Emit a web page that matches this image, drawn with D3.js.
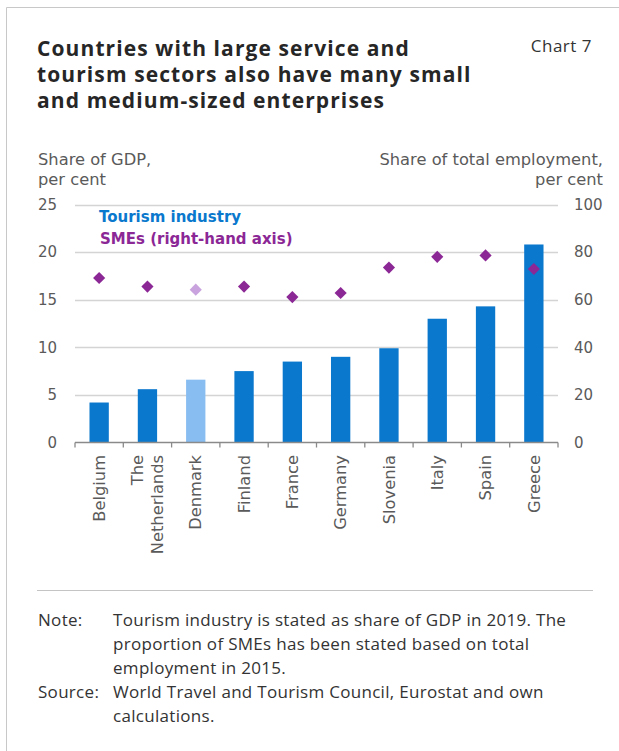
<!DOCTYPE html>
<html>
<head>
<meta charset="utf-8">
<script src="https://cdn.jsdelivr.net/npm/d3@7"></script>
<style>
  html, body { margin: 0; padding: 0; background: #fff; }
  svg { display: block; }
</style>
</head>
<body>
<svg id="chart" width="619" height="751"></svg>
<script>
// Countries, in the order shown on the x axis
const countries = ["Belgium", "The Netherlands", "Denmark", "Finland", "France",
                   "Germany", "Slovenia", "Italy", "Spain", "Greece"];
// Tourism industry, share of GDP 2019 (per cent, left axis)
const tourismShare = [4.2, 5.6, 6.6, 7.5, 8.5, 9.0, 9.9, 13.0, 14.3, 20.8];
// SMEs, share of total employment 2015 (per cent, right axis)
const smeShare = [69.1, 65.5, 64.2, 65.5, 61.1, 62.8, 73.5, 78.0, 78.6, 72.9];
// Country drawn in a highlight tone
const highlight = "Denmark";
// Axis ticks
const leftTicks = [0, 5, 10, 15, 20, 25];
const rightTicks = [0, 20, 40, 60, 80, 100];

const titleLines = ["Countries with large service and",
                    "tourism sectors also have many small",
                    "and medium-sized enterprises"];
const noteLines = ["Tourism industry is stated as share of GDP in 2019. The",
                   "proportion of SMEs has been stated based on total",
                   "employment in 2015."];
const sourceLines = ["World Travel and Tourism Council, Eurostat and own",
                     "calculations."];

const svg = d3.select("#chart");
const FONT = "'Open Sans', 'Noto Sans', sans-serif";
const AXIS_FONT = "'DejaVu Sans', Verdana, sans-serif";
const grey = "#5a5a5a";

const colBar = "#0a78cd", colBarLight = "#87bdf1";
const colDot = "#8c2796", colDotLight = "#c9a3de";

// frame
svg.append("line").attr("x1", 6.5).attr("x2", 619).attr("y1", 7.5).attr("y2", 7.5)
  .attr("stroke", "#c8c8c8").attr("stroke-width", 1);
svg.append("line").attr("x1", 6.5).attr("x2", 6.5).attr("y1", 7.5).attr("y2", 751)
  .attr("stroke", "#c8c8c8").attr("stroke-width", 1);

// title
svg.append("text").attr("x", 37).attr("y", 56)
  .style("font-family", FONT).style("font-weight", 700).style("font-size", "21px")
  .style("letter-spacing", "1.1px")
  .attr("fill", "#262626")
  .selectAll("tspan").data(titleLines).join("tspan")
  .attr("x", 37).attr("dy", (d, i) => i ? 26 : 0).text(d => d);

svg.append("text").attr("x", 592).attr("y", 52).attr("text-anchor", "end")
  .style("font-family", FONT).style("font-size", "17px").style("letter-spacing", "0.5px")
  .attr("fill", "#333")
  .text("Chart 7");

// axis titles
svg.append("text").style("font-family", AXIS_FONT).style("font-size", "16.3px").attr("fill", grey)
  .selectAll("tspan").data(["Share of GDP,", "per cent"]).join("tspan")
  .attr("x", 38).attr("y", (d, i) => 165 + i * 20).text(d => d);
svg.append("text").style("font-family", AXIS_FONT).style("font-size", "16.3px").attr("fill", grey)
  .attr("text-anchor", "end")
  .selectAll("tspan").data(["Share of total employment,", "per cent"]).join("tspan")
  .attr("x", 603).attr("y", (d, i) => 165 + i * 20).text(d => d);

// plot area bounds
const plotLeft = 75, plotRight = 558, plotTop = 204.5, plotBottom = 442.5;
const x = d3.scaleBand().domain(countries).range([plotLeft, plotRight])
  .paddingInner(0.6).paddingOuter(0.3);
const yL = d3.scaleLinear().domain([0, 25]).range([plotBottom, plotTop]);
const yR = d3.scaleLinear().domain([0, 100]).range([plotBottom, plotTop]);

// gridlines
svg.append("g").selectAll("line").data(leftTicks.filter(t => t > 0)).join("line")
  .attr("x1", plotLeft).attr("x2", plotRight)
  .attr("y1", d => Math.round(yL(d)) + 0.5).attr("y2", d => Math.round(yL(d)) + 0.5)
  .attr("stroke", "#d4d4d4").attr("stroke-width", 1.3);

// left axis
const gL = svg.append("g").attr("transform", `translate(${plotLeft},0)`)
  .call(d3.axisLeft(yL).tickValues(leftTicks).tickSize(0).tickPadding(18));
gL.select(".domain").remove();
gL.selectAll("text").style("font-family", AXIS_FONT).style("font-size", "15px").attr("fill", grey);

// right axis
const gR = svg.append("g").attr("transform", `translate(${plotRight},0)`)
  .call(d3.axisRight(yR).tickValues(rightTicks).tickSize(0).tickPadding(16));
gR.select(".domain").remove();
gR.selectAll("text").style("font-family", AXIS_FONT).style("font-size", "15px").attr("fill", grey);

// bars
svg.append("g").selectAll("rect").data(countries).join("rect")
  .attr("x", d => x(d)).attr("width", x.bandwidth())
  .attr("y", (d, i) => yL(tourismShare[i]))
  .attr("height", (d, i) => yL(0) - yL(tourismShare[i]))
  .attr("fill", d => d === highlight ? colBarLight : colBar);

// x axis line and category boundary ticks
svg.append("line").attr("x1", plotLeft).attr("x2", plotRight).attr("y1", plotBottom).attr("y2", plotBottom)
  .attr("stroke", "#8a8a8a").attr("stroke-width", 1.5);
const step = x.step();
svg.append("g").selectAll("line").data(d3.range(countries.length + 1)).join("line")
  .attr("x1", i => plotLeft + i * step).attr("x2", i => plotLeft + i * step)
  .attr("y1", plotBottom).attr("y2", plotBottom + 5)
  .attr("stroke", "#8a8a8a").attr("stroke-width", 1.3);

// SME diamonds
const diamond = d3.symbol(d3.symbolSquare, 74);
svg.append("g").selectAll("path").data(countries).join("path")
  .attr("d", diamond)
  .attr("transform", (d, i) => `translate(${x(d) + x.bandwidth() / 2},${yR(smeShare[i])}) rotate(45)`)
  .attr("fill", d => d === highlight ? colDotLight : colDot);

// category labels, rotated
const lab = svg.append("g").selectAll("text").data(countries).join("text")
  .attr("transform", d => `translate(${x(d) + x.bandwidth() / 2},455) rotate(-90)`)
  .attr("text-anchor", "end")
  .style("font-family", AXIS_FONT).style("font-size", "16.3px").attr("fill", grey);
lab.each(function (d) {
  const words = d === "The Netherlands" ? ["The", "Netherlands"] : [d];
  const t = d3.select(this);
  words.forEach((w, k) => {
    t.append("tspan").attr("x", 0)
      .attr("y", (k - (words.length - 1) / 2) * 20)
      .attr("dy", "0.35em").text(w);
  });
});

// legend
svg.append("text").attr("x", 99).attr("y", 222)
  .style("font-family", AXIS_FONT).style("font-weight", 700).style("font-size", "15px")
  .attr("fill", colBar).text("Tourism industry");
svg.append("text").attr("x", 100).attr("y", 244)
  .style("font-family", AXIS_FONT).style("font-weight", 700).style("font-size", "15px")
  .attr("fill", colDot).text("SMEs (right-hand axis)");

// separator and notes
svg.append("line").attr("x1", 37).attr("x2", 593).attr("y1", 590.5).attr("y2", 590.5)
  .attr("stroke", "#c4c4c4").attr("stroke-width", 1.2);

const notes = svg.append("g").style("font-family", FONT).style("font-size", "17px")
  .style("letter-spacing", "0.3px").attr("fill", "#333");
notes.append("text").attr("x", 38).attr("y", 626).text("Note:");
noteLines.forEach((l, i) => notes.append("text").attr("x", 113).attr("y", 626 + i * 24).text(l));
notes.append("text").attr("x", 38).attr("y", 698).text("Source:");
sourceLines.forEach((l, i) => notes.append("text").attr("x", 113).attr("y", 698 + i * 24).text(l));
</script>
</body>
</html>
